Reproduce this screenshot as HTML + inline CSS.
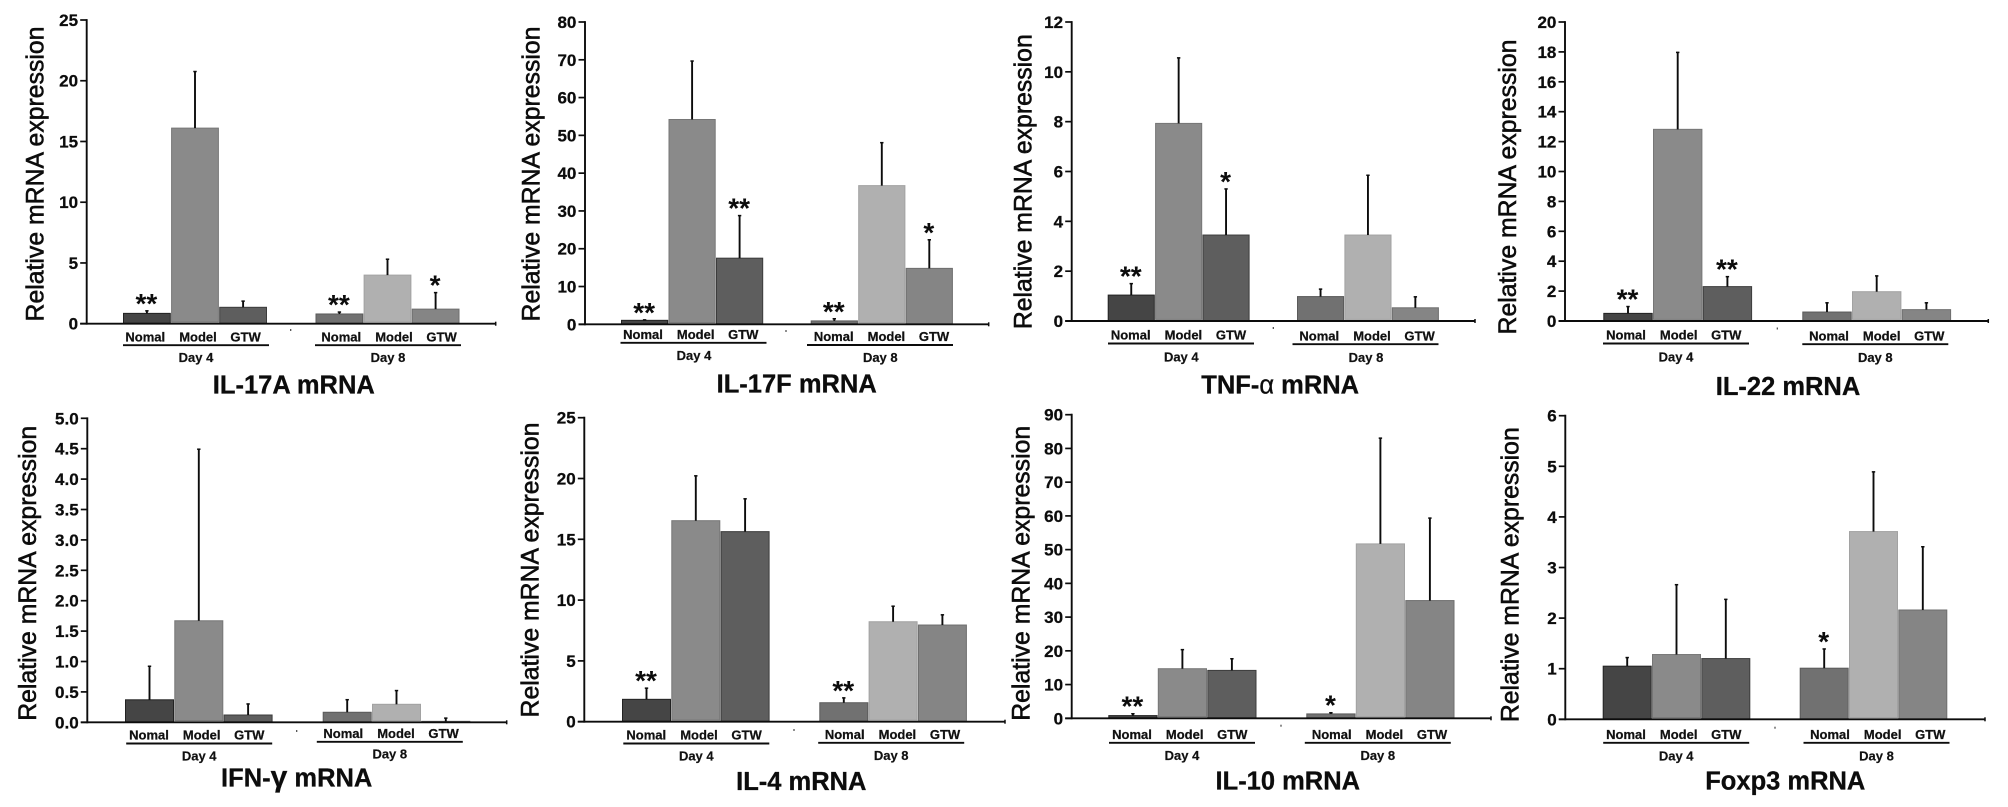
<!DOCTYPE html>
<html lang="en">
<head>
<meta charset="utf-8">
<title>Relative mRNA expression panels</title>
<style>
html,body{margin:0;padding:0;background:#fff;}
svg{display:block;font-family:"Liberation Sans",Arial,sans-serif;}
.ytitle{font-size:24.8px;font-weight:400;fill:#0c0c0c;stroke:#0c0c0c;stroke-width:.55px;text-anchor:middle;}
.ptitle{font-size:25.5px;font-weight:700;fill:#0c0c0c;stroke:#0c0c0c;stroke-width:.3px;text-anchor:middle;}
.day{font-size:13px;font-weight:700;fill:#111;stroke:#111;stroke-width:.2px;text-anchor:middle;}
.cat{font-size:13px;font-weight:700;fill:#111;stroke:#111;stroke-width:.25px;text-anchor:middle;}
.tick{font-size:17px;font-weight:700;fill:#0c0c0c;stroke:#0c0c0c;stroke-width:.25px;text-anchor:end;}
.star{font-size:28px;font-weight:700;fill:#0c0c0c;text-anchor:middle;}
</style>
</head>
<body>
<svg id="figure" width="2008" height="807" viewBox="0 0 2008 807" xmlns="http://www.w3.org/2000/svg">
  <rect width="2008" height="807" fill="#fff"/>

  <g id="il17a">
    <text class="ytitle" transform="translate(43.3 174) rotate(-90)">Relative mRNA expression</text>
    <text class="day" x="196" y="361.9">Day 4</text>
    <text class="day" x="388" y="361.9">Day 8</text>
    <text class="ptitle" x="293.8" y="393.3">IL-17A mRNA</text>
  </g>
  <g id="il17f">
    <text class="ytitle" transform="translate(539.3 174) rotate(-90)">Relative mRNA expression</text>
    <text class="day" x="694" y="359.9">Day 4</text>
    <text class="day" x="880.3" y="361.9">Day 8</text>
    <text class="ptitle" x="796.7" y="392.7">IL-17F mRNA</text>
  </g>
  <g id="tnfa">
    <text class="ytitle" transform="translate(1031.7 181.7) rotate(-90)">Relative mRNA expression</text>
    <text class="day" x="1181.3" y="361.3">Day 4</text>
    <text class="day" x="1366" y="361.9">Day 8</text>
    <text class="ptitle" x="1280.2" y="393.3">TNF-<tspan font-weight="400">α</tspan> mRNA</text>
  </g>
  <g id="il22">
    <text class="ytitle" transform="translate(1516 187) rotate(-90)">Relative mRNA expression</text>
    <text class="day" x="1676" y="361.3">Day 4</text>
    <text class="day" x="1875.3" y="361.9">Day 8</text>
    <text class="ptitle" x="1788" y="395">IL-22 mRNA</text>
  </g>
  <g id="ifng">
    <text class="ytitle" transform="translate(36 573.3) rotate(-90)">Relative mRNA expression</text>
    <text class="day" x="199.2" y="760.3">Day 4</text>
    <text class="day" x="389.8" y="758.6">Day 8</text>
    <text class="ptitle" x="296.7" y="786.7">IFN-<tspan font-size="30">γ</tspan> mRNA</text>
  </g>
  <g id="il4">
    <text class="ytitle" transform="translate(538.3 570) rotate(-90)">Relative mRNA expression</text>
    <text class="day" x="696.3" y="760.6">Day 4</text>
    <text class="day" x="891.2" y="759.9">Day 8</text>
    <text class="ptitle" x="801.3" y="790">IL-4 mRNA</text>
  </g>
  <g id="il10">
    <text class="ytitle" transform="translate(1029.3 573.3) rotate(-90)">Relative mRNA expression</text>
    <text class="day" x="1182" y="759.9">Day 4</text>
    <text class="day" x="1377.8" y="759.9">Day 8</text>
    <text class="ptitle" x="1287.8" y="789.3">IL-10 mRNA</text>
  </g>
  <g id="foxp3">
    <text class="ytitle" transform="translate(1518.3 574.7) rotate(-90)">Relative mRNA expression</text>
    <text class="day" x="1676.2" y="760.3">Day 4</text>
    <text class="day" x="1876.5" y="760.3">Day 8</text>
    <text class="ptitle" x="1785.3" y="789.3">Foxp3 mRNA</text>
  </g>
</svg>

<script>
// ---- data ----
const categories = ['Nomal', 'Model', 'GTW'];

const il17aTicks = ['0', '5', '10', '15', '20', '25'];
const il17aValues = [0.85, 16.1, 1.35, 0.8, 4.0, 1.2];
const il17aErrorTops = [1.1, 20.8, 1.9, 1.0, 5.35, 2.6];
const il17aStars = ['**', '', '', '**', '', '*'];

const il17fTicks = ['0', '10', '20', '30', '40', '50', '60', '70', '80'];
const il17fValues = [1.05, 54.2, 17.5, 0.9, 36.7, 14.8];
const il17fErrorTops = [1.3, 69.8, 28.9, 1.6, 48.2, 22.5];
const il17fStars = ['**', '', '**', '**', '', '*'];

const tnfaTicks = ['0', '2', '4', '6', '8', '10', '12'];
const tnfaValues = [1.04, 7.93, 3.45, 0.98, 3.45, 0.53];
const tnfaErrorTops = [1.52, 10.58, 5.32, 1.3, 5.87, 0.99];
const tnfaStars = ['**', '', '*', '', '', ''];

const il22Ticks = ['0', '2', '4', '6', '8', '10', '12', '14', '16', '18', '20'];
const il22Values = [0.51, 12.82, 2.3, 0.6, 1.96, 0.76];
const il22ErrorTops = [1.0, 18.0, 3.0, 1.25, 3.05, 1.25];
const il22Stars = ['**', '', '**', '', '', ''];

const ifngTicks = ['0.0', '0.5', '1.0', '1.5', '2.0', '2.5', '3.0', '3.5', '4.0', '4.5', '5.0'];
const ifngValues = [0.37, 1.67, 0.12, 0.165, 0.296, 0.016];
const ifngErrorTops = [0.93, 4.5, 0.31, 0.38, 0.53, 0.077];
const ifngStars = ['', '', '', '', '', ''];

const il4Ticks = ['0', '5', '10', '15', '20', '25'];
const il4Values = [1.84, 16.53, 15.63, 1.56, 8.22, 7.95];
const il4ErrorTops = [2.8, 20.26, 18.37, 2.0, 9.54, 8.83];
const il4Stars = ['**', '', '', '**', '', ''];

const il10Ticks = ['0', '10', '20', '30', '40', '50', '60', '70', '80', '90'];
const il10Values = [0.8, 14.7, 14.2, 1.3, 51.7, 34.9];
const il10ErrorTops = [1.5, 20.5, 17.8, 1.8, 83.2, 59.5];
const il10Stars = ['**', '', '', '*', '', ''];

const foxp3Ticks = ['0', '1', '2', '3', '4', '5', '6'];
const foxp3Values = [1.05, 1.28, 1.2, 1.01, 3.71, 2.16];
const foxp3ErrorTops = [1.23, 2.67, 2.38, 1.4, 4.9, 3.42];
const foxp3Stars = ['', '', '', '*', '', ''];

// ---- per-bar appearance ----
const barFills = ['#454545', '#8a8a8a', '#5e5e5e', '#717171', '#b0b0b0', '#858585'];
const barEdges = ['#222222', '#767676', '#3c3c3c', '#5a5a5a', '#a2a2a2', '#6e6e6e'];

// ---- panel geometry (layout only) ----
const panels = [
  {id:'il17a', ticks:il17aTicks, values:il17aValues, tops:il17aErrorTops, stars:il17aStars,
   axX:86.7, axTop:20, axBottom:323.7, axRight:495.7, g1:123, g2:315.5, bw:47.8,
   lab1:145.3, lab2:341.3, day1:196, day2:388, ly1:336.7, ly2:336.7, dotX:290.7, dotY:330},
  {id:'il17f', ticks:il17fTicks, values:il17fValues, tops:il17fErrorTops, stars:il17fStars,
   axX:585, axTop:22, axBottom:324.3, axRight:988.7, g1:621, g2:810.7, bw:47.2,
   lab1:643, lab2:833.7, day1:693.5, day2:880, ly1:334.3, ly2:336.5, dotX:786, dotY:331},
  {id:'tnfa', ticks:tnfaTicks, values:tnfaValues, tops:tnfaErrorTops, stars:tnfaStars,
   axX:1071.7, axTop:22, axBottom:321, axRight:1475, g1:1107.7, g2:1297, bw:47.1,
   lab1:1130.7, lab2:1319.3, day1:1181, day2:1365.5, ly1:335, ly2:335.7, dotX:1273.3, dotY:328},
  {id:'il22', ticks:il22Ticks, values:il22Values, tops:il22ErrorTops, stars:il22Stars,
   axX:1565, axTop:22, axBottom:321, axRight:1988.3, g1:1603.3, g2:1802.3, bw:49.4,
   lab1:1626, lab2:1829, day1:1676, day2:1875.3, ly1:335, ly2:335.7, dotX:1777.3, dotY:328.5},
  {id:'ifng', ticks:ifngTicks, values:ifngValues, tops:ifngErrorTops, stars:ifngStars,
   axX:87.3, axTop:418.3, axBottom:722.3, axRight:506.7, g1:125, g2:322.7, bw:49,
   lab1:149, lab2:343.3, day1:199.2, day2:389.8, ly1:735, ly2:733.3, dotX:296.7, dotY:731},
  {id:'il4', ticks:il4Ticks, values:il4Values, tops:il4ErrorTops, stars:il4Stars,
   axX:584.3, axTop:417.7, axBottom:721.7, axRight:1005, g1:622, g2:819.3, bw:49,
   lab1:646.3, lab2:844.7, day1:696.3, day2:891.2, ly1:735, ly2:734.3, dotX:794, dotY:730},
  {id:'il10', ticks:il10Ticks, values:il10Values, tops:il10ErrorTops, stars:il10Stars,
   axX:1071.7, axTop:414.7, axBottom:718.3, axRight:1491, g1:1108.3, g2:1306.3, bw:49.2,
   lab1:1132, lab2:1331.7, day1:1182, day2:1377.8, ly1:734.3, ly2:734.3, dotX:1281, dotY:725.7},
  {id:'foxp3', ticks:foxp3Ticks, values:foxp3Values, tops:foxp3ErrorTops, stars:foxp3Stars,
   axX:1565.3, axTop:415.7, axBottom:719.3, axRight:1985, g1:1602.7, g2:1799.7, bw:49,
   lab1:1626, lab2:1830, day1:1676.2, day2:1876.5, ly1:734.3, ly2:734.3, dotX:1775, dotY:727.7}
];

const SVG_NS = 'http://www.w3.org/2000/svg';
const barSlugs = ['day4-nomal', 'day4-model', 'day4-gtw', 'day8-nomal', 'day8-model', 'day8-gtw'];

function make(parent, tag, attrs, text) {
  const node = document.createElementNS(SVG_NS, tag);
  for (const key in attrs) node.setAttribute(key, attrs[key]);
  if (text !== undefined) node.textContent = text;
  parent.appendChild(node);
  return node;
}

function yAxisFn(p) {
  const max = Number(p.ticks[p.ticks.length - 1]);
  return function (v) { return p.axBottom - (v / max) * (p.axBottom - p.axTop); };
}

function barLeft(p, i) {
  const start = i < 3 ? p.g1 : p.g2;
  return start + (i % 3) * (p.bw + 0.3);
}

panels.forEach(function (p) {
  const root = document.getElementById(p.id);
  const y = yAxisFn(p);

  // bars
  p.values.forEach(function (v, i) {
    const x = barLeft(p, i);
    const gap = (i === 1 || i === 4) ? 1.6 : 0.4;
    const bar = make(root, 'rect', {
      x: x + 0.5, y: y(v), width: p.bw - 1, height: Math.max(0.5, p.axBottom - gap - y(v)),
      fill: barFills[i], stroke: barEdges[i], 'stroke-width': 1
    });
    
    
  });

  // error bars and significance stars
  p.tops.forEach(function (t, i) {
    const cx = barLeft(p, i) + p.bw / 2;
    const err = make(root, 'line', {
      x1: cx, x2: cx, y1: y(p.values[i]), y2: y(t), stroke: '#0c0c0c', 'stroke-width': 1.9
    });
    
    
    const cap = make(root, 'line', {
      x1: cx - 1.7, x2: cx + 1.7, y1: y(t) + 0.5, y2: y(t) + 0.5, stroke: '#0c0c0c', 'stroke-width': 1.5
    });
    
    
    if (p.stars[i]) {
      const star = make(root, 'text', { 'class': 'star', x: cx - 0.5, y: y(t) - 13.5 + 16 }, p.stars[i]);
      
      
    }
  });

  // axes
  const yLine = make(root, 'line', {
    x1: p.axX, x2: p.axX, y1: p.axTop - 0.9, y2: p.axBottom + 0.9, stroke: '#0c0c0c', 'stroke-width': 1.9
  });
  
  
  const xLine = make(root, 'line', {
    x1: p.axX - 6.5, x2: p.axRight, y1: p.axBottom, y2: p.axBottom, stroke: '#0c0c0c', 'stroke-width': 1.9
  });
  
  
  const xEnd = make(root, 'line', {
    x1: p.axRight, x2: p.axRight, y1: p.axBottom - 2, y2: p.axBottom + 2, stroke: '#0c0c0c', 'stroke-width': 1.5
  });
  
  
  const mid = make(root, 'line', {
    x1: p.dotX, x2: p.dotX, y1: p.dotY - 1, y2: p.dotY + 1, stroke: '#444', 'stroke-width': 1.2
  });
  
  

  // y ticks
  p.ticks.forEach(function (label) {
    const ty = y(Number(label));
    const mark = make(root, 'line', {
      x1: p.axX - 6.5, x2: p.axX, y1: ty, y2: ty, stroke: '#0c0c0c', 'stroke-width': 1.7
    });
    
    
    const txt = make(root, 'text', { 'class': 'tick', x: p.axX - 8.6, y: ty + 6 }, label);
    
    
  });

  // category labels and group underlines
  [[p.lab1, p.day1, p.ly1], [p.lab2, p.day2, p.ly2]].forEach(function (g, gi) {
    const offsets = [0, 52.7, 100.3];
    categories.forEach(function (name, ci) {
      const cat = make(root, 'text', { 'class': 'cat', x: g[0] + offsets[ci], y: g[2] + 4.6 }, name);
      
      
    });
    const rule = make(root, 'line', {
      x1: g[1] - 73, x2: g[1] + 73, y1: g[2] + 8.5, y2: g[2] + 8.5, stroke: '#0c0c0c', 'stroke-width': 1.9
    });
    
    
  });
});
</script>
</body>
</html>
